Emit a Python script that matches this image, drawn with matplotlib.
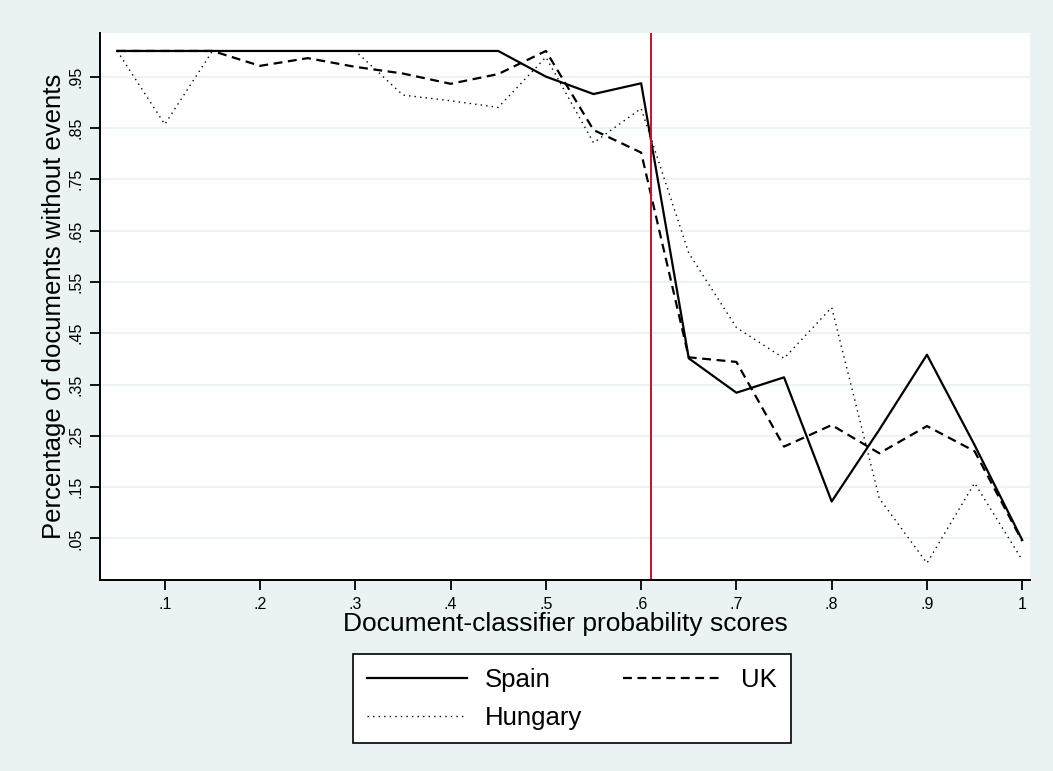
import matplotlib
matplotlib.use("Agg")
import matplotlib.pyplot as plt
import numpy as np

plt.rcParams['font.family'] = ['Liberation Sans', 'DejaVu Sans']

# classifier score bins and share of documents without events per country
scores = [0.05, 0.10, 0.15, 0.20, 0.25, 0.30, 0.35, 0.40, 0.45, 0.50,
          0.55, 0.60, 0.65, 0.70, 0.75, 0.80, 0.85, 0.90, 0.95, 1.00]
spain = [1.0, 1.0, 1.0, 1.0, 1.0, 1.0, 1.0, 1.0, 1.0, 0.95,
         0.916, 0.937, 0.401, 0.334, 0.364, 0.122, 0.262, 0.408, 0.232, 0.047]
uk = [1.0, 1.0, 1.0, 0.971, 0.986, 0.969, 0.956, 0.936, 0.955, 1.0,
      0.846, 0.802, 0.403, 0.394, 0.229, 0.271, 0.216, 0.269, 0.22, 0.045]
hungary = [1.0, 0.857, 1.0, 1.0, 1.0, 1.0, 0.914, 0.903, 0.89, 0.988,
           0.821, 0.888, 0.606, 0.461, 0.401, 0.50, 0.128, 0.002, 0.158, 0.008]
cutoff = 0.61

xticks = [0.1, 0.2, 0.3, 0.4, 0.5, 0.6, 0.7, 0.8, 0.9, 1.0]
xtick_labels = ['.1', '.2', '.3', '.4', '.5', '.6', '.7', '.8', '.9', '1']
yticks = [0.05, 0.15, 0.25, 0.35, 0.45, 0.55, 0.65, 0.75, 0.85, 0.95]
ytick_labels = ['.05', '.15', '.25', '.35', '.45', '.55', '.65', '.75', '.85', '.95']

bg = '#EAF2F3'
fig = plt.figure(figsize=(10.53, 7.71), dpi=100, facecolor=bg)
ax = fig.add_axes([0.095, 0.2477, 0.883, 0.7095])
ax.set_facecolor('white')

l_es, = ax.plot(scores, spain, color='black', lw=1.6, ls='-', label='Spain')
l_uk, = ax.plot(scores, uk, color='black', lw=1.6, ls=(0, (4, 2.5)), label='UK')
l_hu, = ax.plot(scores, hungary, color='black', lw=1.0, ls=(0, (1, 3)), label='Hungary')
ax.axvline(cutoff, color='#C8102E', lw=1.4)

ax.set_xlim(0.032, 1.008)
ax.set_ylim(-0.031, 1.035)
ax.set_xticks(xticks)
ax.set_xticklabels(xtick_labels, fontsize=11.5)
ax.set_yticks(yticks)
ax.set_yticklabels(ytick_labels, fontsize=11.5, rotation=90, va='center')
ax.grid(axis='y', color='#EAF2F3', lw=1.3)
ax.set_axisbelow(True)
ax.tick_params(direction='out', length=7, width=1.3, colors='black', pad=5)

for side in ['top', 'right']:
    ax.spines[side].set_visible(False)
for side in ['left', 'bottom']:
    ax.spines[side].set_linewidth(1.4)

ax.set_xlabel('Document-classifier probability scores', fontsize=19, labelpad=0)
ax.set_ylabel('Percentage of documents without events', fontsize=18.5, labelpad=2)

# row-wise order: Spain, UK on top, Hungary below
leg = fig.legend([l_es, l_hu, l_uk], ['Spain', 'Hungary', 'UK'],
                 loc='upper center', bbox_to_anchor=(0.543, 0.152), ncol=2,
                 fontsize=18.5, frameon=True, fancybox=False, framealpha=1,
                 handlelength=3.9, columnspacing=1.6, borderpad=0.54,
                 labelspacing=0.54, handletextpad=0.7, borderaxespad=0)
leg.get_frame().set_edgecolor('black')
leg.get_frame().set_linewidth(1.2)

fig.savefig('out.png', dpi=100, facecolor=bg)
